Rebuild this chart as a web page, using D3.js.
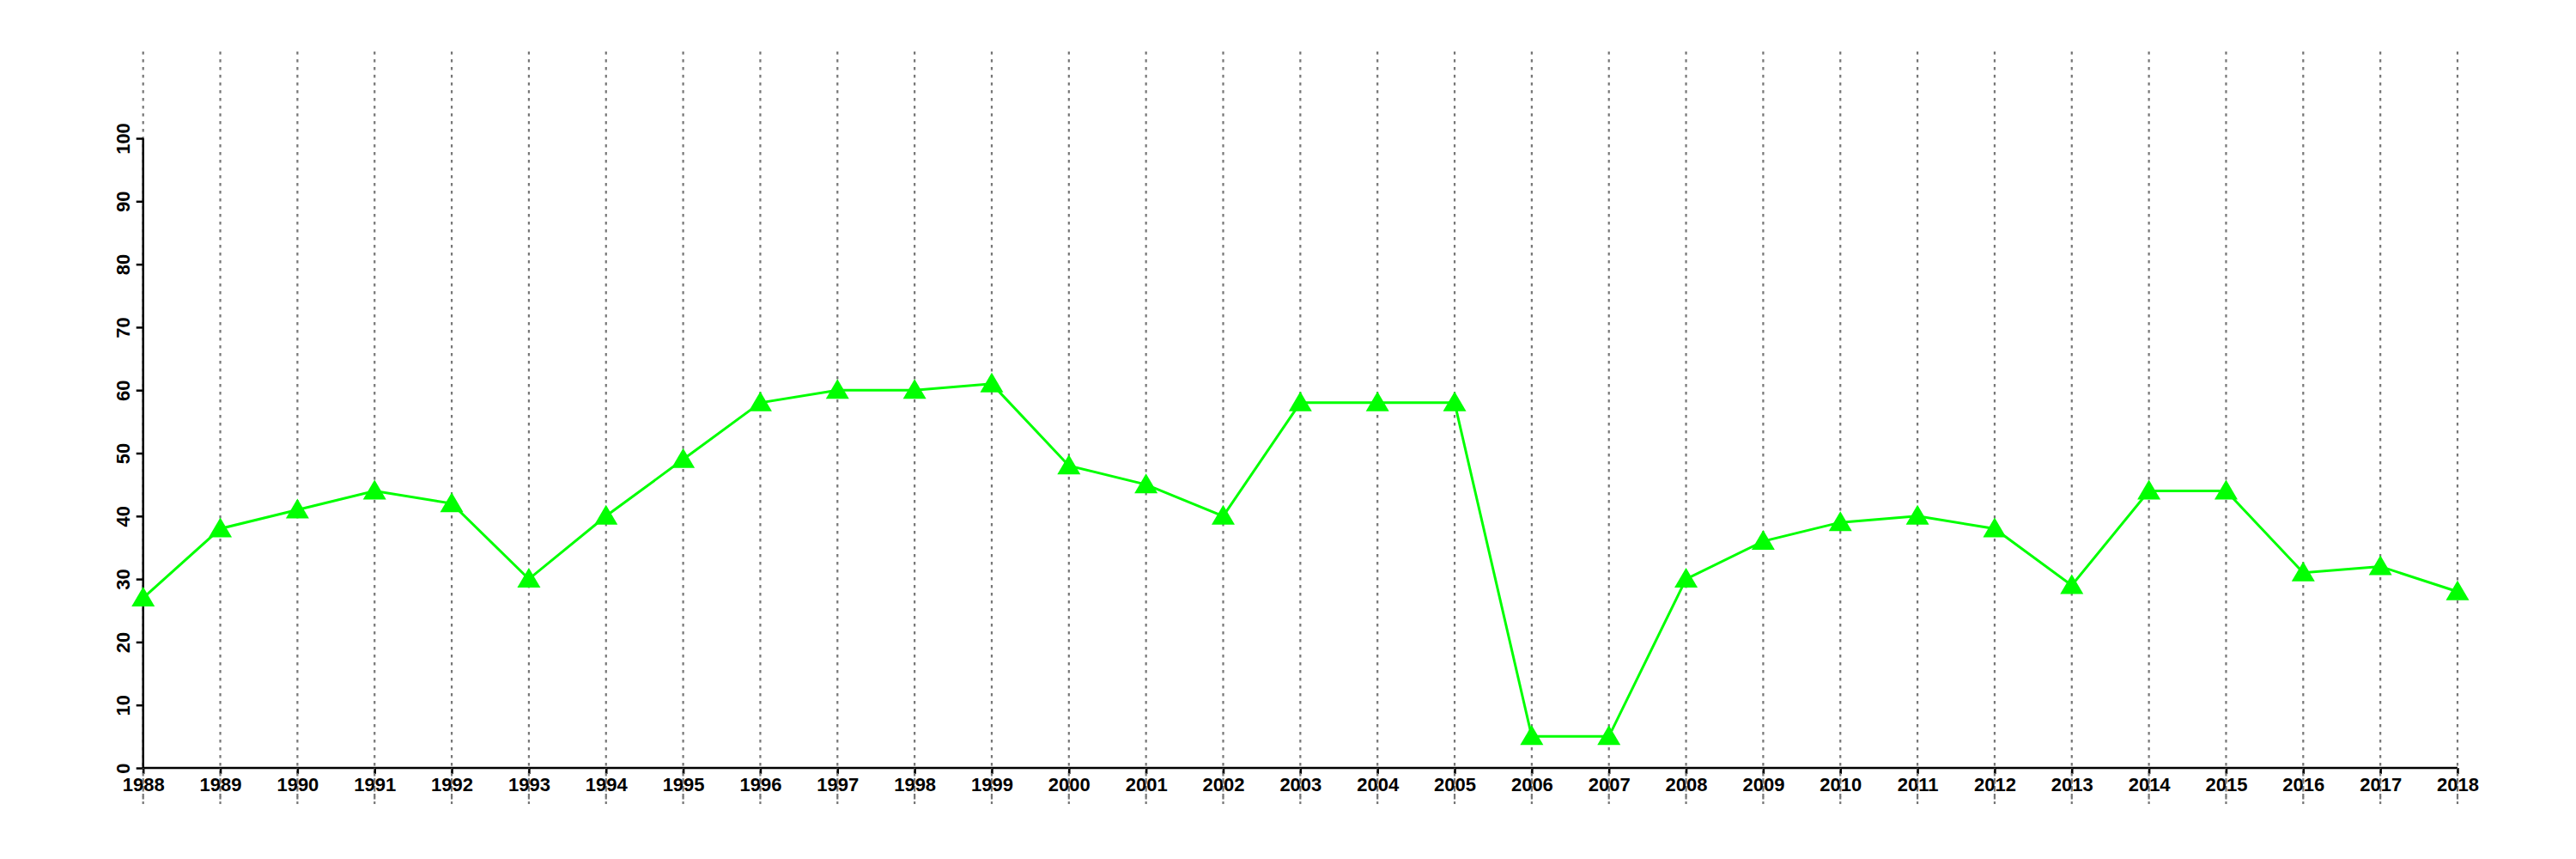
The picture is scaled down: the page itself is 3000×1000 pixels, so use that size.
<!DOCTYPE html>
<html>
<head>
<meta charset="utf-8">
<script src="https://cdn.jsdelivr.net/npm/d3@7"></script>
<style>
html,body{margin:0;padding:0;background:#fff;}
svg{display:block;}
text{font-family:"Liberation Sans",Arial,Helvetica,sans-serif;font-weight:bold;}
</style>
</head>
<body>
<svg id="chart" width="3000" height="1000"></svg>
<script>
const years = [1988,1989,1990,1991,1992,1993,1994,1995,1996,1997,1998,1999,2000,2001,2002,2003,2004,2005,2006,2007,2008,2009,2010,2011,2012,2013,2014,2015,2016,2017,2018];
const values = [27,38,41,44,42,30,40,49,58,60,60,61,48,45,40,58,58,58,5,5,30,36,39,40,38,29,44,44,31,32,28];
const yTicks = [0,10,20,30,40,50,60,70,80,90,100];

const svg = d3.select("#chart");
const x = d3.scaleLinear().domain([1988,2018]).range([166.7,2862]);
const y = d3.scaleLinear().domain([0,100]).range([894,161]);

// vertical dotted grid lines
svg.append("g").selectAll("line").data(years).join("line")
  .attr("x1", d=>x(d)).attr("x2", d=>x(d))
  .attr("y1", 60).attr("y2", 936)
  .attr("stroke","#777").attr("stroke-width",2.2).attr("stroke-dasharray","3.5,5.5");

// x axis
const xAxis = d3.axisBottom(x).tickValues(years).tickFormat(d3.format("d")).tickSize(7).tickPadding(4);
const gx = svg.append("g").attr("transform","translate(0,894)").call(xAxis);
gx.select(".domain").attr("stroke","#000").attr("stroke-width",2.5).attr("d",`M${x(1988)},0H${x(2018)}`);
gx.selectAll(".tick line").attr("stroke","#000").attr("stroke-width",2.5);
gx.selectAll(".tick text").attr("font-size",22).attr("fill","#000").attr("dy","0.72em");

// y axis
const yAxis = d3.axisLeft(y).tickValues(yTicks).tickSize(8).tickPadding(0);
const gy = svg.append("g").attr("transform",`translate(${x(1988)},0)`).call(yAxis);
gy.select(".domain").attr("stroke","#000").attr("stroke-width",2.5).attr("d",`M0,${y(0)}V${y(100)}`);
gy.selectAll(".tick line").attr("stroke","#000").attr("stroke-width",2.5);
gy.selectAll(".tick text").attr("font-size",22).attr("fill","#000")
  .attr("x",null).attr("dy",null)
  .attr("text-anchor","middle")
  .attr("transform","translate(-16,0) rotate(-90)")
  .attr("y",0).attr("dy","0em");

// redraw grid on top of labels (as in the reference)
svg.append("g").selectAll("line").data(years).join("line")
  .attr("x1", d=>x(d)).attr("x2", d=>x(d))
  .attr("y1", 894).attr("y2", 936)
  .attr("stroke","#777").attr("stroke-width",2.2).attr("stroke-dasharray","3.5,5.5")
  .attr("stroke-dashoffset", -(894-60));

// line
const line = d3.line().x((d,i)=>x(years[i])).y(d=>y(d));
svg.append("path").datum(values)
  .attr("d",line).attr("fill","none").attr("stroke","#00ff00").attr("stroke-width",3);

// triangles
svg.append("g").selectAll("path").data(values).join("path")
  .attr("transform",(d,i)=>`translate(${x(years[i])},${y(d)})`)
  .attr("d","M0,-13L13.5,10L-13.5,10Z")
  .attr("fill","#00ff00");
</script>
</body>
</html>
